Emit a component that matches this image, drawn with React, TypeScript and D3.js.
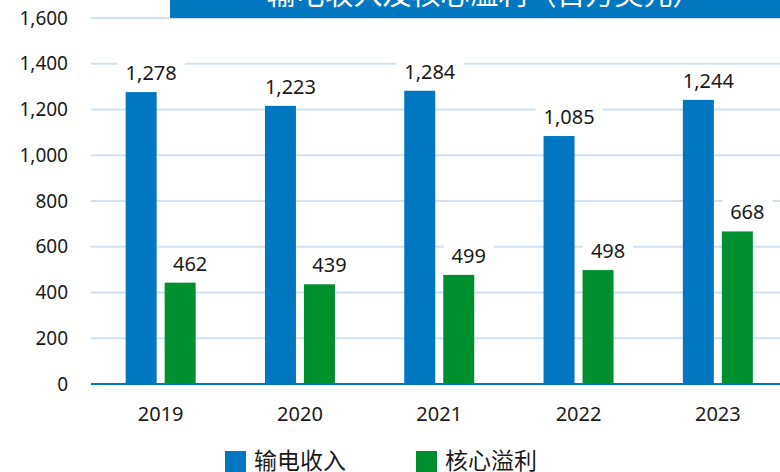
import React, { useEffect, useRef } from "react";
import * as d3 from "d3";

const years = ["2019", "2020", "2021", "2022", "2023"];
// bar heights as drawn in the picture
const revenue = [1276, 1216, 1282, 1084, 1242];
const coreProfit = [443, 436, 477, 498, 667];
// the printed data labels
const revenueLabels = ["1,278", "1,223", "1,284", "1,085", "1,244"];
const coreProfitLabels = ["462", "439", "499", "498", "668"];
const seriesNames = ["输电收入", "核心溢利"];
const yTicks = [0, 200, 400, 600, 800, 1000, 1200, 1400, 1600];
const title = "输电收入及核心溢利（百万美元）";

const BLUE = "#0077c0";
const GREEN = "#008f2f";
const GRID = "#cde2f3";
const FONT = "'Noto Sans', 'Noto Sans CJK SC', sans-serif";

const App = () => {
  const svgRef = useRef<SVGSVGElement>(null);

  useEffect(() => {
    const w = 780;
    const h = 472;
    const left = 91;
    const svg = d3.select(svgRef.current).attr("width", w).attr("height", h);
    svg.selectAll("*").remove();

    const x = d3.scaleBand().domain(years).range([left, left + 5 * 139.3]);
    const xSub = d3.scaleBand().domain(seriesNames).range([-35, 35]).paddingInner(8 / 39);
    const y = d3.scaleLinear().domain([0, 1600]).range([384, 18]);
    const colors = [BLUE, GREEN];

    // grid lines + y labels
    svg
      .selectAll()
      .data(yTicks.slice(1))
      .join("line")
      .attr("x1", left)
      .attr("x2", w)
      .attr("y1", (d) => y(d))
      .attr("y2", (d) => y(d))
      .attr("stroke", GRID)
      .attr("stroke-width", 1.8);

    svg
      .selectAll()
      .data(yTicks)
      .join("text")
      .text((d) => d3.format(",")(d))
      .attr("x", 68)
      .attr("y", (d) => y(d))
      .attr("dy", "0.35em")
      .attr("text-anchor", "end")
      .style("font-family", FONT)
      .style("font-size", "19px")
      .attr("fill", "#1a1a1a");

    // title box
    svg.append("rect").attr("x", 170).attr("y", -20).attr("width", 620).attr("height", 38).attr("fill", BLUE);
    svg
      .append("text")
      .text(title)
      .attr("x", 484)
      .attr("y", 5)
      .attr("text-anchor", "middle")
      .attr("fill", "#fff")
      .style("font-family", FONT)
      .style("font-size", "29px");

    const series = [revenue, coreProfit];
    const labels = [revenueLabels, coreProfitLabels];
    series.forEach((vals, si) => {
      const name = seriesNames[si];
      svg
        .selectAll()
        .data(vals)
        .join("rect")
        .attr("x", (_, i) => x(years[i])! + x.bandwidth() / 2 + xSub(name)!)
        .attr("y", (d) => y(d))
        .attr("width", xSub.bandwidth())
        .attr("height", (d) => y(0) - y(d))
        .attr("fill", colors[si]);
    });

    // data labels with white background
    series.forEach((vals, si) => {
      const name = seriesNames[si];
      vals.forEach((v, i) => {
        const cx = x(years[i])! + x.bandwidth() / 2 + xSub(name)! + xSub.bandwidth() / 2 + 10;
        const g = svg.append("g");
        const t = g
          .append("text")
          .text(labels[si][i])
          .attr("x", cx)
          .attr("y", y(v) - 12)
          .attr("text-anchor", "middle")
          .attr("fill", "#1a1a1a")
          .style("font-family", FONT)
          .style("font-size", "20px");
        const bb = (t.node() as SVGTextElement).getBBox();
        g.insert("rect", "text")
          .attr("x", bb.x - 8)
          .attr("y", bb.y)
          .attr("width", bb.width + 16)
          .attr("height", bb.height)
          .attr("fill", "#fff");
      });
    });

    // axis line
    svg.append("line").attr("x1", left).attr("x2", w).attr("y1", y(0)).attr("y2", y(0)).attr("stroke", BLUE).attr("stroke-width", 2);

    svg
      .selectAll()
      .data(years)
      .join("text")
      .text((d) => d)
      .attr("x", (d) => x(d)! + x.bandwidth() / 2)
      .attr("y", 421)
      .attr("text-anchor", "middle")
      .attr("fill", "#1a1a1a")
      .style("font-family", FONT)
      .style("font-size", "20px");

    // legend
    const legendX = [225, 416];
    seriesNames.forEach((name, i) => {
      svg.append("rect").attr("x", legendX[i]).attr("y", 451).attr("width", 21).attr("height", 21).attr("fill", colors[i]);
      svg
        .append("text")
        .text(name)
        .attr("x", legendX[i] + 29)
        .attr("y", 469)
        .attr("fill", "#1a1a1a")
        .style("font-family", FONT)
        .style("font-size", "23px");
    });
  }, []);

  return (
    <div style={{ position: "absolute", left: 0, top: 0 }}>
      <svg ref={svgRef} style={{ display: "block" }}></svg>
    </div>
  );
};

export default App;
